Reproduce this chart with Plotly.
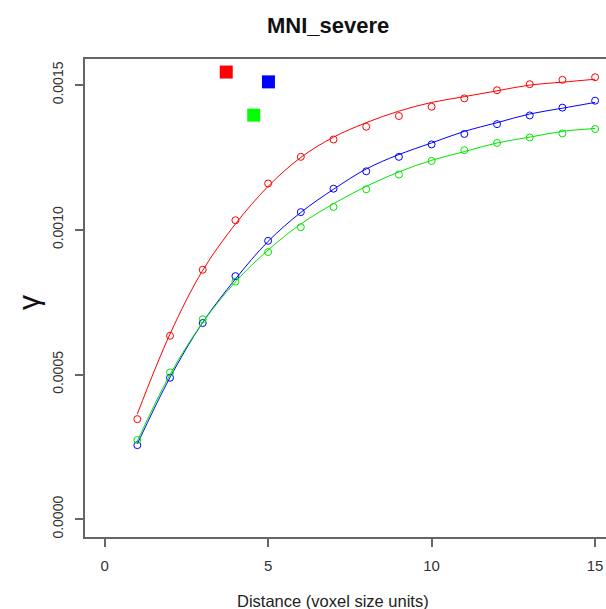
import plotly.graph_objects as go

# distances (voxel size units)
dist = list(range(1, 16))

# observed values (open circles)
red_obs = [0.000346, 0.000634, 0.000862, 0.001033, 0.00116, 0.001252, 0.001312, 0.001356,
           0.001393, 0.001425, 0.001454, 0.001482, 0.001503, 0.001518, 0.001527]
blue_obs = [0.000256, 0.000489, 0.000678, 0.00084, 0.000962, 0.001061, 0.001142, 0.001202,
            0.001252, 0.001295, 0.001331, 0.001365, 0.001395, 0.001422, 0.001446]
green_obs = [0.000274, 0.000507, 0.000691, 0.000821, 0.000923, 0.001009, 0.001079, 0.00114,
             0.001191, 0.001238, 0.001275, 0.0013, 0.001319, 0.001333, 0.001348]

# fitted curves
red_fit = [0.000364, 0.00064, 0.00086, 0.00102, 0.00115, 0.00125, 0.00132, 0.00137,
           0.00141, 0.00144, 0.00146, 0.00148, 0.0015, 0.00151, 0.00152]
blue_fit = [0.00026, 0.00049, 0.00068, 0.00083, 0.00096, 0.00106, 0.00114, 0.00121,
            0.00126, 0.0013, 0.00134, 0.00137, 0.0014, 0.00142, 0.00144]
green_fit = [0.00027, 0.0005, 0.00068, 0.00082, 0.00093, 0.00102, 0.00109, 0.00115,
             0.0012, 0.00124, 0.00127, 0.0013, 0.00132, 0.00134, 0.00135]

# filled squares
sq_x = [3.72, 5.01, 4.56]
sq_y = [0.001545, 0.001511, 0.001396]
sq_col = ['#ff0000', '#0000ff', '#00ff00']

x_ticks = [0, 5, 10, 15]
y_ticks = [0.0, 0.0005, 0.001, 0.0015]
y_ticklabels = ['0.0000', '0.0005', '0.0010', '0.0015']

FONT = 'Liberation Sans, Arial, sans-serif'

W, H = 606, 609
ML, MT, MB = 85, 59, 72

fig = go.Figure()

for obs, fit, col in [(red_obs, red_fit, '#ff0000'),
                      (blue_obs, blue_fit, '#0000ff'),
                      (green_obs, green_fit, '#00e600')]:
    fig.add_trace(go.Scatter(
        x=dist, y=fit, mode='lines', line=dict(color=col, width=1, shape='spline'),
        showlegend=False, hoverinfo='skip',
    ))
    fig.add_trace(go.Scatter(
        x=dist, y=obs, mode='markers',
        marker=dict(symbol='circle-open', size=7, color=col, line=dict(width=1, color=col)),
        showlegend=False,
    ))

fig.add_trace(go.Scatter(
    x=sq_x, y=sq_y, mode='markers',
    marker=dict(symbol='square', size=13, color=sq_col),
    showlegend=False,
))

fig.update_layout(
    width=W, height=H,
    margin=dict(l=ML, r=0, t=MT, b=MB),
    plot_bgcolor='#fff',
    paper_bgcolor='#fff',
    font=dict(family=FONT, color='#222'),
    xaxis=dict(
        range=[-0.6, -0.6 + (W - ML) / 32.7], showgrid=False, zeroline=False,
        showline=True, mirror=True, linecolor='#666', linewidth=1.5,
        ticks='outside', ticklen=8, tickcolor='#666', tickwidth=1.5,
        tickvals=x_ticks, tickfont=dict(size=15, color='#333'),
        ticklabelstandoff=6,
    ),
    yaxis=dict(
        range=[-0.0000612, 0.00159], showgrid=False, zeroline=False,
        showline=True, linecolor='#666', linewidth=1.5,
        ticks='outside', ticklen=8, tickcolor='#666', tickwidth=1.5,
        tickvals=y_ticks, ticktext=y_ticklabels, tickangle=-90,
        tickfont=dict(size=14, color='#333'),
        ticklabelstandoff=7,
    ),
)

# texts placed by pixel position
texts = [
    ('<b>MNI_severe</b>', 328, 25, 22, 0, '#111'),
    ('Distance (voxel size units)', 333, 601, 16.5, 0, '#222'),
    ('γ', 28, 303, 30, -90, '#111'),
]
for txt, px, py, size, ang, col in texts:
    fig.add_annotation(
        text=txt, showarrow=False, textangle=ang,
        xref='paper', yref='paper',
        x=(px - ML) / (W - ML), y=(H - MB - py) / (H - MB - MT),
        xanchor='center', yanchor='middle',
        font=dict(size=size, color=col),
    )

# drop the default page margin so the figure fills the window
fig.write_html("out.html",
               config={'displayModeBar': False},
               post_script="document.body.style.margin='0';document.body.style.overflow='hidden';")
